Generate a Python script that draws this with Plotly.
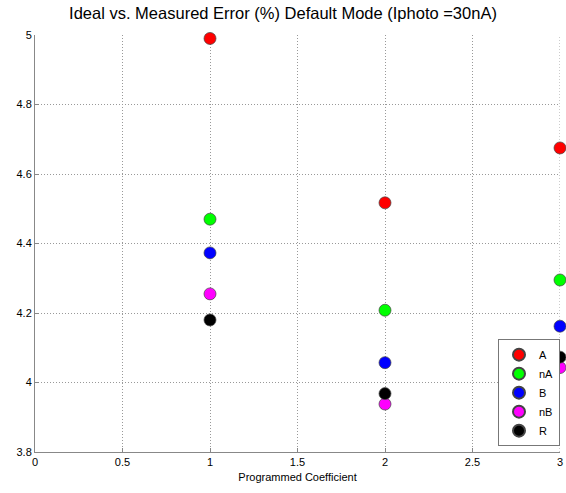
import plotly.graph_objects as go

coef = [1, 2, 3]
series_names = ["A", "nA", "B", "nB", "R"]
vals_A = [4.99, 4.517, 4.675]
vals_nA = [4.47, 4.208, 4.295]
vals_B = [4.373, 4.057, 4.162]
vals_nB = [4.255, 3.938, 4.043]
vals_R = [4.18, 3.968, 4.073]
colors = ["#ff0000", "#00ff00", "#0000ff", "#ff00ff", "#000000"]

x_ticks = [0, 0.5, 1, 1.5, 2, 2.5, 3]
x_ticklabels = ["0", "0.5", "1", "1.5", "2", "2.5", "3"]
y_ticks = [3.8, 4, 4.2, 4.4, 4.6, 4.8, 5]
y_ticklabels = ["3.8", "4", "4.2", "4.4", "4.6", "4.8", "5"]

fig = go.Figure()
for name, vals, col in zip(series_names, [vals_A, vals_nA, vals_B, vals_nB, vals_R], colors):
    fig.add_trace(go.Scatter(
        x=coef, y=vals, mode="markers", name=name,
        marker=dict(size=12, color=col, line=dict(color="#444444", width=0.7)),
        cliponaxis=False,
    ))

font = "Liberation Sans, Arial, Helvetica, sans-serif"
fig.update_layout(
    width=566, height=493,
    margin=dict(l=35, r=3, t=35, b=41),
    paper_bgcolor="white", plot_bgcolor="white",
    title=dict(text="Ideal vs. Measured Error (%) Default Mode (Iphoto =30nA)",
               x=0.5, xanchor="center", y=0.985, yanchor="top",
               font=dict(family=font, size=16.5, color="black")),
    font=dict(family=font, size=11, color="black"),
    showlegend=True,
    legend=dict(x=1, xanchor="right", y=0.014, yanchor="bottom",
                bgcolor="white", bordercolor="#777777", borderwidth=1,
                font=dict(family=font, size=11, color="black"),
                tracegroupgap=0, itemsizing="constant"),
    shapes=[dict(type="line", xref="x", yref="paper", x0=3, x1=3, y0=0, y1=1,
                 line=dict(color="#999999", width=1, dash="1px,2px"), layer="below")],
)
fig.update_xaxes(
    range=[0, 3], tickvals=x_ticks, ticktext=x_ticklabels,
    showgrid=True, gridcolor="#999999", griddash="1px,2px", gridwidth=1,
    showline=True, linecolor="#888888", linewidth=1, mirror=False,
    ticks="inside", ticklen=4, tickcolor="#888888",
    zeroline=False, ticklabeloverflow="allow",
    title=dict(text="Programmed Coefficient", font=dict(size=11), standoff=6),
)
fig.update_yaxes(
    range=[3.8, 5], tickvals=y_ticks, ticktext=y_ticklabels,
    showgrid=True, gridcolor="#999999", griddash="1px,2px", gridwidth=1,
    showline=True, linecolor="#888888", linewidth=1, mirror=False,
    ticks="inside", ticklen=4, tickcolor="#888888",
    zeroline=False,
)
fig.write_html("out.html", config={"displayModeBar": False},
               post_script="document.body.style.margin='0px';")
